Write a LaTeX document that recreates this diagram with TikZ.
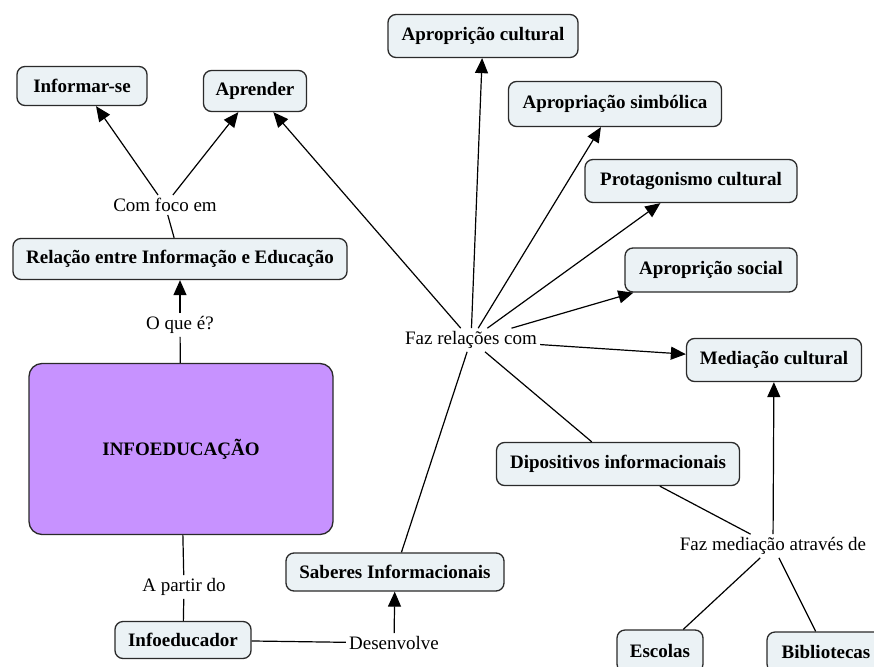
\documentclass[tikz,border=0pt]{standalone}
\usepackage{fontspec}
\setmainfont{Liberation Serif}
\newfontfamily\cmapfont{Liberation Serif}
\usepackage{tikz}
\usetikzlibrary{arrows.meta}
\definecolor{conceptfill}{HTML}{EBF2F5}
\definecolor{mainfill}{HTML}{C792FF}
\definecolor{edgec}{HTML}{2A2A2A}
\tikzset{%
  >={Triangle[length=15pt,width=13pt]}, % big cmap arrows
  concept/.style={draw=edgec,fill=conceptfill,line width=1.3pt,
    rounded corners=8pt,minimum height=41pt,inner xsep=8pt,
    font=\cmapfont\fontsize{19}{22}\selectfont\bfseries},
  linkword/.style={inner sep=3pt,font=\cmapfont\fontsize{19}{22}\selectfont},
  cline/.style={line width=1.2pt,black}%
}
\begin{document}
\begin{tikzpicture}[x=1pt,y=-1pt] % pixel coordinates
    \clip (0,0) rectangle (874,666);
    \fill[white] (0,0) rectangle (874,666);

    % main concept
    \node[concept,fill=mainfill,minimum width=304pt,minimum height=171pt,
      rounded corners=13pt] (info) at (181,449) {INFOEDUCAÇÃO};

    % left branch
    \node[concept,minimum width=334pt] (relacao) at (180,259) {Relação entre Informação e Educação};
    \node[concept,minimum width=130pt,minimum height=39pt] (informar) at (82,86) {Informar-se};
    \node[concept,minimum width=103pt] (aprender) at (255,91) {Aprender};
    \node[linkword] (oque) at (180,325) {O que é?};
    \node[linkword] (foco) at (165,205) {Com foco em};
    \node[linkword] (apartir) at (184,587) {A partir do};
    \node[concept,minimum width=136pt,minimum height=37pt] (infoeducador) at (183,640) {Infoeducador};
    \node[linkword] (desenvolve) at (394,643) {Desenvolve};
    \node[concept,minimum width=218pt,minimum height=38pt] (saberes) at (395,572) {Saberes Informacionais};

    % right branch
    \node[linkword] (relacoes) at (471,340) {Faz relações com};
    \node[concept,minimum width=190pt,minimum height=43pt] (aculturalnode) at (483,36) {Apropri\c{c}ão cultural};
    \node[concept,minimum width=213pt,minimum height=45pt] (simbolica) at (615,104) {Apropriação simbólica};
    \node[concept,minimum width=212pt,minimum height=43pt] (protagonismo) at (691,181) {Protagonismo cultural};
    \node[concept,minimum width=172pt,minimum height=44pt] (social) at (711,270) {Apropri\c{c}ão social};
    \node[concept,minimum width=175pt,minimum height=43pt] (mediacao) at (774,360) {Mediação cultural};
    \node[concept,minimum width=243pt,minimum height=43pt] (dispositivos) at (618,464) {Dipositivos informacionais};
    \node[linkword] (atraves) at (773,546) {Faz mediação através de};
    \node[concept,minimum width=86pt,minimum height=42pt] (escolas) at (660,651) {Escolas};
    \node[concept,minimum width=118pt,minimum height=40pt] (bibliotecas) at (826,652) {Bibliotecas};

    % links
    \draw[cline] (info) -- (oque);
    \draw[cline,->] (oque) -- (relacao);
    \draw[cline] (relacao) -- (foco);
    \draw[cline,->] (foco) -- (informar);
    \draw[cline,->] (foco) -- (aprender);
    \draw[cline] (info) -- (apartir);
    \draw[cline] (apartir) -- (infoeducador);
    \draw[cline] (infoeducador) -- (desenvolve);
    \draw[cline,->] (desenvolve) -- (saberes);
    \draw[cline] (saberes) -- (relacoes);
    \foreach \t in {aprender,aculturalnode,simbolica,protagonismo,social,mediacao}
      { \draw[cline,->] (relacoes) -- (\t); }
    \draw[cline] (relacoes) -- (dispositivos);
    \draw[cline] (dispositivos) -- (atraves);
    \draw[cline,->] (atraves) -- (mediacao);
    \draw[cline] (atraves) -- (escolas);
    \draw[cline] (atraves) -- (bibliotecas);
\end{tikzpicture}
\end{document}
